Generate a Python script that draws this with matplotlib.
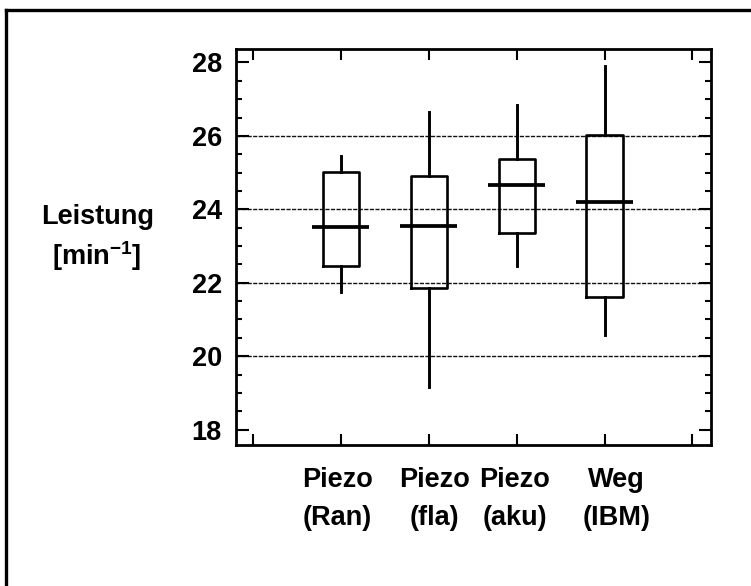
import matplotlib
matplotlib.use("Agg")
import matplotlib.pyplot as plt
from matplotlib.lines import Line2D
from matplotlib.transforms import ScaledTranslation

plt.rcParams["font.family"] = ["Liberation Sans", "DejaVu Sans"]
plt.rcParams["font.weight"] = "bold"
plt.rcParams["mathtext.fontset"] = "custom"
plt.rcParams["mathtext.rm"] = "Liberation Sans:bold"
plt.rcParams["mathtext.it"] = "Liberation Sans:bold"

# Sensor groups
group_names = ["Piezo", "Piezo", "Piezo", "Weg"]
group_tags = ["(Ran)", "(fla)", "(aku)", "(IBM)"]

# Box statistics of the performance values [min^-1]
whisker_low = [21.74, 19.17, 22.46, 20.57]
quartile_1 = [22.46, 21.86, 23.35, 21.62]
medians = [23.51, 23.55, 24.66, 24.20]
quartile_3 = [25.01, 24.92, 25.36, 26.03]
whisker_high = [25.45, 26.66, 26.84, 27.90]

y_ticks = [18, 20, 22, 24, 26, 28]
grid_levels = [20, 22, 24, 26]

FS = 19.5
fig = plt.figure(figsize=(7.51, 5.86), dpi=100)
ax = fig.add_axes([0.3138, 0.2406, 0.6329, 0.6766])

positions = list(range(1, len(medians) + 1))
stats = []
for lo, q1, med, q3, hi in zip(whisker_low, quartile_1, medians, quartile_3, whisker_high):
    stats.append(dict(whislo=lo, q1=q1, med=med, q3=q3, whishi=hi, fliers=[]))

for lvl in grid_levels:
    ax.axhline(lvl, color="#111111", lw=1.0, ls=(0, (3, 1)), zorder=1)

ax.bxp(stats, positions=positions, widths=0.41, showcaps=False, showfliers=False,
       boxprops=dict(color="black", lw=1.9),
       whiskerprops=dict(color="black", lw=2.1),
       medianprops=dict(lw=0),
       zorder=3)
ax.hlines(medians, [p - 0.32 for p in positions], [p + 0.32 for p in positions],
          colors="black", lw=2.7, zorder=4)

ax.set_xlim(-0.193, 5.21)
ax.set_ylim(17.58, 28.38)

ax.set_yticks(y_ticks)
ax.set_yticklabels([str(t) for t in y_ticks], fontsize=FS)
ax.yaxis.set_minor_locator(matplotlib.ticker.MultipleLocator(0.5))

tick_labels = [""] + [f"{n}\n{t}" for n, t in zip(group_names, group_tags)] + [""]
ax.set_xticks(range(0, len(medians) + 2))
ax.set_xticklabels(tick_labels, fontsize=FS, linespacing=1.6)

ax.tick_params(axis="both", which="both", direction="in", top=True, right=True,
               color="black", width=1.5)
ax.tick_params(axis="y", which="major", length=9, pad=10)
ax.tick_params(axis="y", which="minor", length=4.5)
ax.tick_params(axis="x", which="major", length=8, pad=16)

# nudge the category labels slightly as typeset
label_shifts = [0, -3, 6, -2, 12, 0]
for lbl, dx in zip(ax.get_xticklabels(), label_shifts):
    lbl.set_transform(lbl.get_transform() + ScaledTranslation(dx / 100, 0, fig.dpi_scale_trans))

for sp in ax.spines.values():
    sp.set_linewidth(2.0)

fig.text(98 / 751, 1 - 217 / 586, "Leistung", fontsize=FS, ha="center", va="center")
fig.text(97 / 751, 1 - 256 / 586, r"[min$^{\mathrm{-1}}$]", fontsize=FS, ha="center", va="center")

# outer frame of the figure panel
fig.add_artist(Line2D([6 / 751, 6 / 751], [0, 1 - 9.7 / 586], transform=fig.transFigure,
                      color="black", lw=2.4))
fig.add_artist(Line2D([6 / 751, 1], [1 - 9.7 / 586, 1 - 9.7 / 586], transform=fig.transFigure,
                      color="black", lw=2.4))

fig.savefig("out.png", dpi=100)
